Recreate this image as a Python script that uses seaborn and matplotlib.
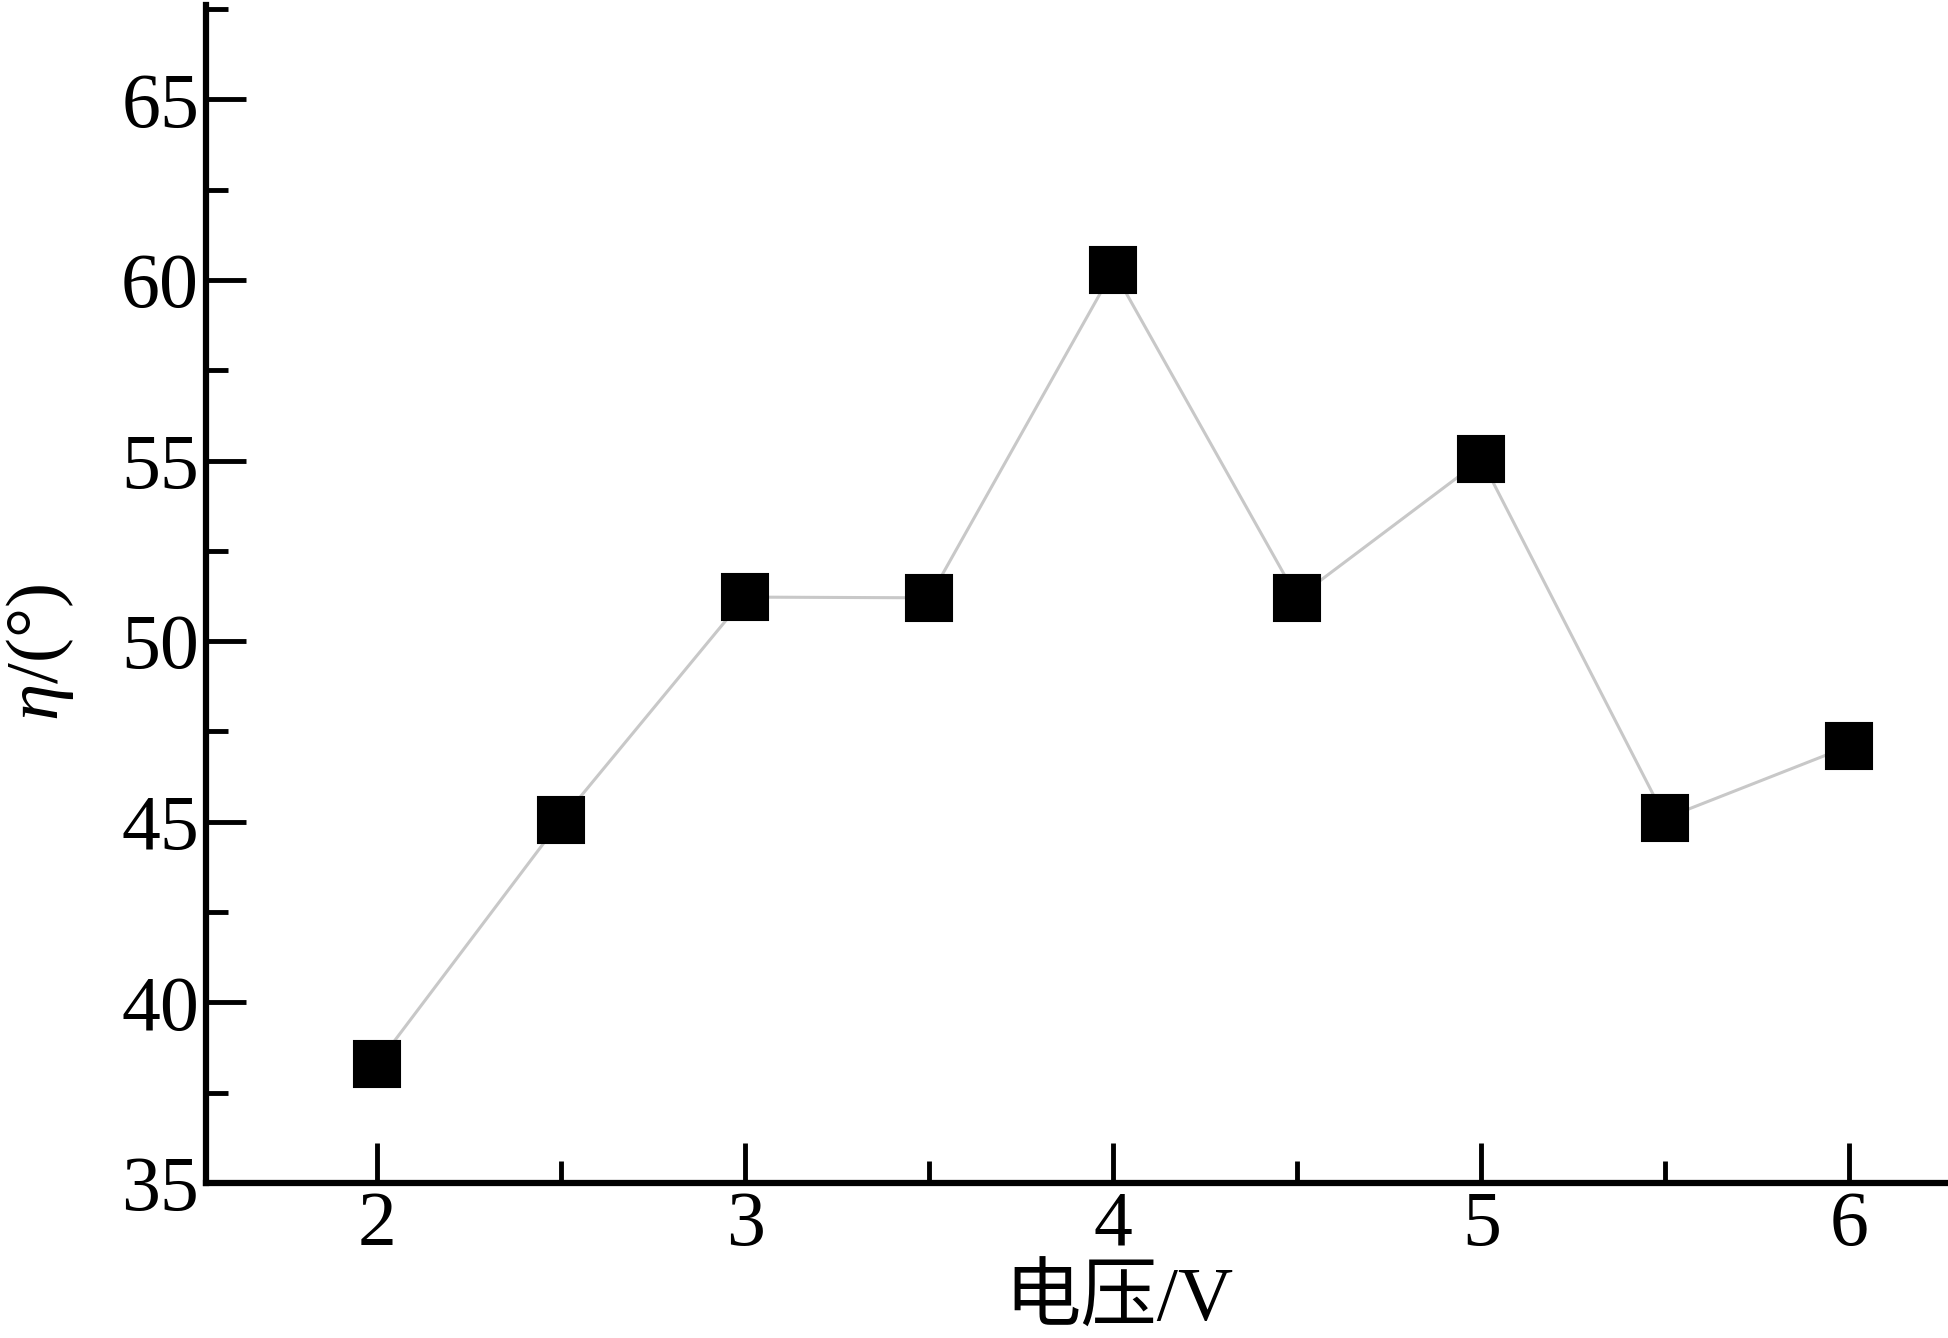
import matplotlib
matplotlib.use("Agg")
import matplotlib.pyplot as plt
from matplotlib.ticker import MultipleLocator
import seaborn as sns
import pandas as pd

# data
voltage = [2.0, 2.5, 3.0, 3.5, 4.0, 4.5, 5.0, 5.5, 6.0]
eta = [38.3, 45.05, 51.22, 51.2, 60.27, 51.2, 55.03, 45.1, 47.1]
x_ticks = [2, 3, 4, 5, 6]
y_ticks = [35, 40, 45, 50, 55, 60, 65]

df = pd.DataFrame({"voltage": voltage, "eta": eta})

sns.set_theme(style="ticks")
plt.rcParams['font.family'] = ['Liberation Serif', 'Noto Sans CJK SC', 'DejaVu Sans']
plt.rcParams['mathtext.fontset'] = 'custom'
plt.rcParams['mathtext.it'] = 'Liberation Serif:italic'
plt.rcParams['mathtext.rm'] = 'Liberation Serif'
plt.rcParams['text.color'] = 'black'
plt.rcParams['axes.labelcolor'] = 'black'
plt.rcParams['xtick.color'] = 'black'
plt.rcParams['ytick.color'] = 'black'

fig = plt.figure(figsize=(19.49, 13.38), dpi=100)
ax = fig.add_axes([0.1057, 0.1158, 0.8923, 0.8802])

sns.lineplot(data=df, x="voltage", y="eta", ax=ax, color="#c8c8c8", linewidth=2.2,
             marker="s", markersize=33, markerfacecolor="black",
             markeredgecolor="black", markeredgewidth=1.5)
for line in ax.lines:
    line.set_zorder(3)

ax.set_xlim(1.535, 6.26)
ax.set_ylim(35, 67.6)
ax.set_xticks(x_ticks)
ax.set_yticks(y_ticks)
ax.xaxis.set_minor_locator(MultipleLocator(0.5))
ax.yaxis.set_minor_locator(MultipleLocator(2.5))

for side in ['top', 'right']:
    ax.spines[side].set_visible(False)
for side in ['left', 'bottom']:
    ax.spines[side].set_linewidth(4.5)
    ax.spines[side].set_color('black')

ax.tick_params(axis='both', which='major', direction='in', length=29, width=3.5,
               labelsize=56, pad=5, colors='black')
ax.tick_params(axis='both', which='minor', direction='in', length=16, width=3.5,
               colors='black')

ax.set_xlabel("电压/V", fontsize=55)
ax.set_ylabel(r"$\mathit{\eta}$/(°)", fontsize=54)
ax.xaxis.set_label_coords(0.525, -0.071)
ax.yaxis.set_label_coords(-0.075, 0.45)

fig.savefig("out.png", dpi=100, facecolor="white")
